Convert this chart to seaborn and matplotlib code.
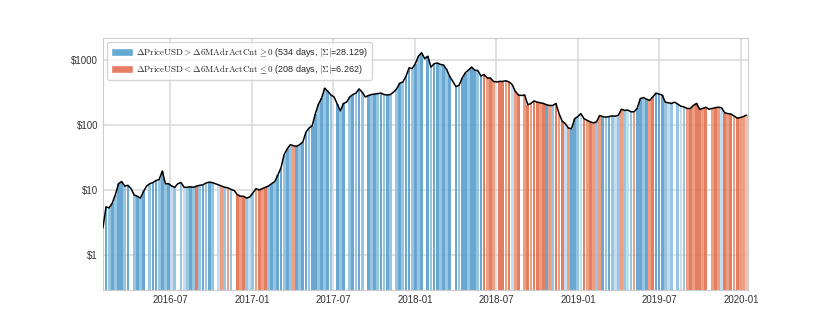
import matplotlib.pyplot as plt
import matplotlib.dates as mdates
import matplotlib.ticker as mticker
from matplotlib.patches import Patch
import seaborn as sns
import pandas as pd

# weekly PriceUSD, one value per Monday starting 2016-02-01
price_2016 = [2.6, 5.5, 5.3, 6.3, 8.5, 12.5, 13.5, 11.5, 11.8, 10.5, 8.4, 8.0, 7.5,
              9.5, 11.5, 12.5, 13.0, 14.0, 14.5, 19.5, 12.5, 12.5, 11.5, 11.0, 12.5,
              13.0, 11.0, 11.0, 11.2, 11.0, 11.5, 11.8, 12.0, 12.8, 13.2, 13.0, 12.5,
              12.0, 11.5, 11.0, 10.8, 10.2, 9.8, 8.5, 8.0, 8.0, 7.5, 7.8]
price_2017 = [9.0, 10.5, 10.0, 10.5, 11.0, 11.5, 12.5, 13.5, 17.0, 22, 35, 43, 50,
              48, 47, 50, 55, 78, 90, 98, 150, 210, 260, 370, 330, 290, 270, 210,
              165, 215, 225, 270, 295, 310, 360, 320, 270, 285, 295, 300, 305, 310,
              295, 290, 295, 320, 360, 440, 460, 560, 760, 740]
price_2018 = [880, 1150, 1300, 1050, 1150, 780, 880, 900, 860, 840, 720, 560, 470,
              390, 410, 530, 640, 700, 780, 700, 690, 570, 600, 530, 530, 470, 460,
              470, 470, 480, 460, 420, 330, 290, 285, 290, 205, 215, 235, 225, 220,
              215, 205, 200, 200, 215, 150, 115, 105, 90, 88, 125, 135]
price_2019 = [150, 125, 118, 112, 108, 112, 140, 135, 132, 135, 138, 137, 142, 175,
              168, 170, 160, 160, 180, 255, 265, 250, 240, 270, 310, 300, 290, 225,
              220, 215, 225, 210, 195, 190, 180, 180, 200, 215, 175, 180, 188, 175,
              180, 185, 188, 185, 155, 150, 148, 138, 128, 130]
price_2020 = [135, 142]

# signal per week: B/b/l blue shades, R/r/q red shades, . no signal
flag_2016 = "BBbBbBBbB.bBbB.bBBbBbBlb.blbBb" + "RbBbBb.lrbrb.RrRbl"
flag_2017 = "brRrR" + "bBbBBbBb" + "r" + "BbBBbBBbBbBb" + ".BbB.bBbBb.BbBbBbBb.bBbBBb"
flag_2018 = "BbB.BbBBbBbB.BbBBbBBbB" + "RrRr.RRrRlrR.rRrRRrR" + "BrbRrRlrBBb"
flag_2019 = "lRrRrbrBbBblbrblbrBBbBrRBBBblb.blbrRrRRrR.rRrlRrRrRr"
flag_2020 = "rq"

shades = {"B": "#5a9fcd", "b": "#8cc0e0", "l": "#c0daee",
          "R": "#e0704f", "r": "#ed9476", "q": "#f5bca5"}

prices = price_2016 + price_2017 + price_2018 + price_2019 + price_2020
flags = flag_2016 + flag_2017 + flag_2018 + flag_2019 + flag_2020
dates = pd.date_range("2016-02-01", periods=len(prices), freq="7D")
df = pd.DataFrame({"date": dates, "price": prices, "flag": list(flags)})

sns.set_style("whitegrid")
plt.rcParams["font.family"] = ["Liberation Sans", "DejaVu Sans"]
plt.rcParams["mathtext.fontset"] = "cm"

fig, ax = plt.subplots(figsize=(8.3, 3.32), dpi=100)
fig.subplots_adjust(left=0.124, right=0.901, bottom=0.127, top=0.886)

base = 0.2
hits = df[df.flag != "."]
ax.bar(hits.date, hits.price - base, bottom=base, width=6.2,
       color=hits.flag.map(shades), alpha=0.9, linewidth=0, zorder=2)
sns.lineplot(data=df, x="date", y="price", color="black", lw=1.1, ax=ax, zorder=3)

ax.set_yscale("log")
ax.set_ylim(0.29, 2200)
ax.set_xlim(dates[0], dates[-1] + pd.Timedelta(days=3))
ax.yaxis.set_major_locator(mticker.FixedLocator([1, 10, 100, 1000]))
ax.yaxis.set_minor_locator(mticker.NullLocator())
ax.yaxis.set_major_formatter(mticker.FuncFormatter(lambda v, p: f"${v:.0f}"))
ax.xaxis.set_major_locator(mdates.MonthLocator(bymonth=[1, 7]))
ax.xaxis.set_major_formatter(mdates.DateFormatter("%Y-%m"))
ax.tick_params(labelsize=7, colors="#333333", length=0)
ax.grid(color="#d9d9d9", lw=1.1)
ax.set_xlabel("")
ax.set_ylabel("")

labels = [r"$\Delta\mathrm{PriceUSD} > \Delta\mathrm{6MAdrActCnt} \geq 0$ (534 days, $|\Sigma|$=28.129)",
          r"$\Delta\mathrm{PriceUSD} < \Delta\mathrm{6MAdrActCnt} \leq 0$ (208 days, $|\Sigma|$=6.262)"]
handles = [Patch(facecolor="#64aad2"), Patch(facecolor="#e57e64")]
ax.legend(handles, labels, loc="upper left", fontsize=6.5, handlelength=2.4,
          handleheight=1.0, handletextpad=0.4, frameon=True, edgecolor="#cccccc")

plt.savefig("out.png", dpi=100)
